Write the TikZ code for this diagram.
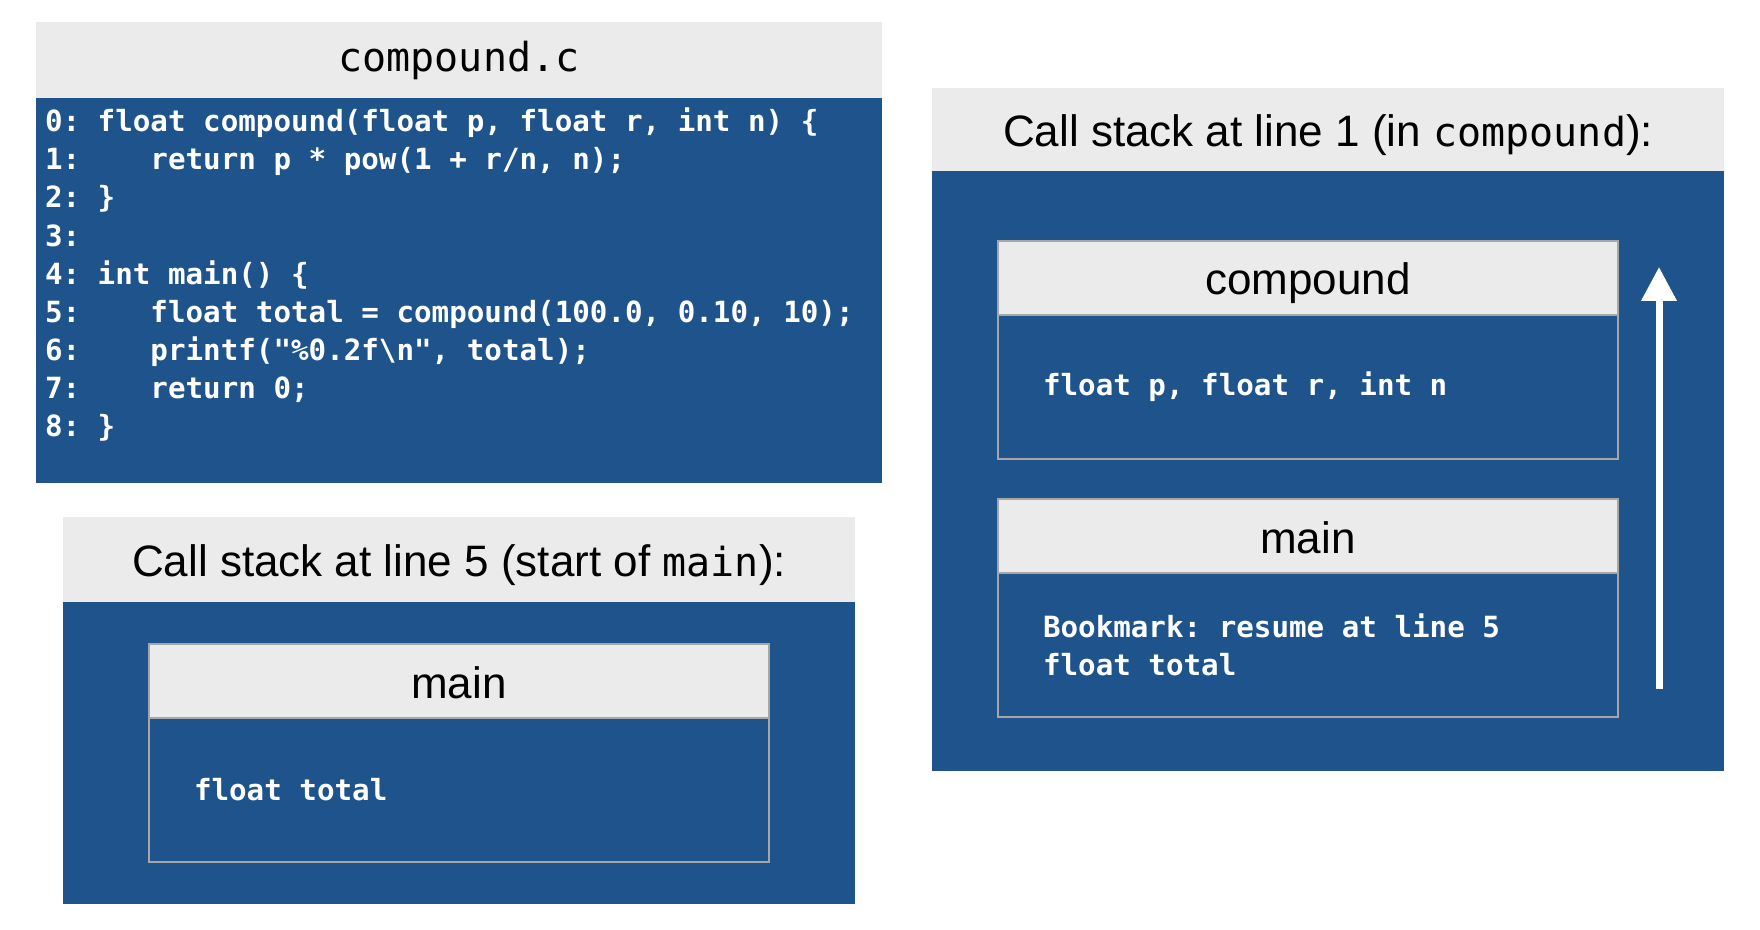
\documentclass[tikz,border=0pt]{standalone}
\usepackage{fontspec}
\setmainfont{Liberation Sans}
\setmonofont{DejaVu Sans Mono}
\usepackage{xcolor}
\usetikzlibrary{arrows.meta, positioning}

\definecolor{stackblue}{RGB}{31,83,140}
\definecolor{headgray}{RGB}{235,235,235}
\definecolor{framegray}{RGB}{166,166,166}

\newcommand{\codefont}{\ttfamily\bfseries\fontsize{14.6}{19.06}\selectfont}
\newcommand{\titlecode}[1]{{\ttfamily\fontsize{20}{24}\selectfont #1}}

\begin{document}
\begin{tikzpicture}[
    x=0.5pt, y=-0.5pt,
    every node/.style={outer sep=0pt, inner sep=0pt},
    panelhead/.style={fill=headgray, minimum width=396pt, font=\fontsize{22}{26}\selectfont},
    stacktitle/.style={panelhead, text height=17pt, text depth=0pt},
    panelbody/.style={fill=stackblue, minimum width=396pt},
    framehead/.style={draw=framegray, line width=1pt, fill=headgray, minimum width=310pt, minimum height=37pt, text height=17pt, text depth=0pt, font=\fontsize{22}{26}\selectfont},
    framebody/.style={draw=framegray, line width=1pt, fill=stackblue, minimum width=310pt, minimum height=72pt, text width=265pt, inner xsep=22.5pt, align=flush left, text=white, font=\codefont},
    codetext/.style={text=white, align=left, font=\codefont},
    uparrow/.style={white, line width=3.5pt, -{Triangle[width=17pt, length=17pt]}}
  ]
  \useasboundingbox (0,0) rectangle (1760,930);

  % source file
  \node[panelhead, minimum width=423pt, minimum height=38pt, anchor=north west, font=\ttfamily\fontsize{20}{24}\selectfont] (codehead) at (36,22) {compound.c};
  \node[panelbody, minimum width=423pt, minimum height=192.5pt, below=0pt of codehead] (codebody) {};
  \node[codetext, anchor=north west] (codelines) at (45,108) {0: float compound(float p, float r, int n) \{\\
1:~~~~return p * pow(1 + r/n, n);\\
2: \}\\
3:\\
4: int main() \{\\
5:~~~~float total = compound(100.0, 0.10, 10);\\
6:~~~~printf("\%0.2f\textbackslash n", total);\\
7:~~~~return 0;\\
8: \}};

  % stack at line 5
  \node[stacktitle, minimum height=42.5pt, anchor=north west] (starthead) at (63,517) {Call stack at line 5 (start of \titlecode{main}):};
  \node[panelbody, minimum height=151pt, below=0pt of starthead] (startbody) {};
  \node[framehead, anchor=north west] (startmainhead) at (149,644) {main};
  \node[framebody, below=0pt of startmainhead] (startmainbody) {float total};

  % stack at line 1
  \node[stacktitle, minimum height=41.5pt, anchor=north west] (compoundhead) at (932,88) {Call stack at line 1 (in \titlecode{compound}):};
  \node[panelbody, minimum height=300pt, below=0pt of compoundhead] (compoundbody) {};
  \node[framehead, anchor=north west] (topframehead) at (998,241) {compound};
  \node[framebody, below=0pt of topframehead] (topframebody) {float p, float r, int n};
  \node[framehead, below=20pt of topframebody] (botframehead) {main};
  \node[framebody, below=0pt of botframehead] (botframebody) {Bookmark: resume at line 5\\float total};

  \coordinate (arrowtail) at (1659,689);
  \coordinate (arrowtip) at (1659,267);
  \draw[uparrow] (arrowtail) -- (arrowtip);
\end{tikzpicture}
\end{document}
